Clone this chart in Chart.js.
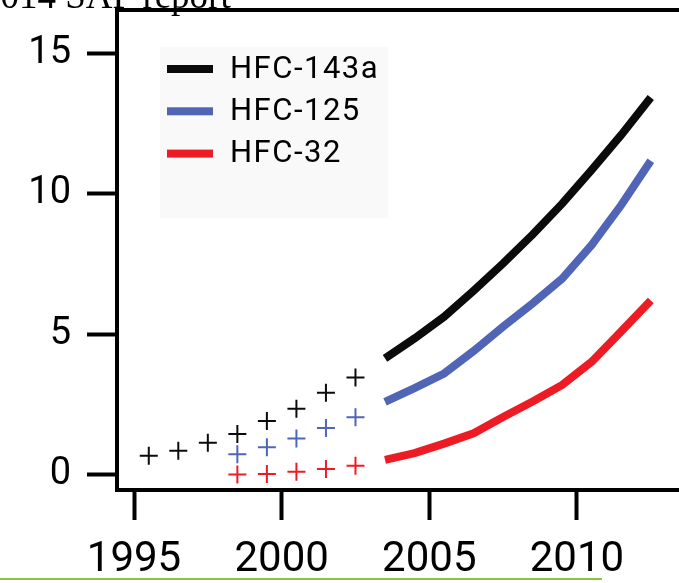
<!DOCTYPE html>
<html><head><meta charset="utf-8">
<script src="https://cdn.jsdelivr.net/npm/chart.js@4.4.1/dist/chart.umd.min.js"></script>
<style>html,body{margin:0;padding:0;background:#fff;overflow:hidden}#wrap{position:relative;width:679px;height:583px}</style>
</head><body><div id="wrap"><canvas id="c" width="679" height="583"></canvas></div>
<script>
// ---- data ----
const seriesNames = ['HFC-143a', 'HFC-125', 'HFC-32'];
const obsYears143a = [1995.5, 1996.5, 1997.5, 1998.5, 1999.5, 2000.5, 2001.5, 2002.5];
const obsHFC143a   = [0.67, 0.85, 1.13, 1.44, 1.91, 2.34, 2.91, 3.46];
const obsYears125  = [1998.5, 1999.5, 2000.5, 2001.5, 2002.5];
const obsHFC125    = [0.72, 0.97, 1.28, 1.66, 2.04];
const obsYears32   = [1998.5, 1999.5, 2000.5, 2001.5, 2002.5];
const obsHFC32     = [0.00, 0.02, 0.10, 0.20, 0.31];
const projYears    = [2003.5, 2004.5, 2005.5, 2006.5, 2007.5, 2008.5, 2009.5, 2010.5, 2011.5, 2012.5];
const projHFC143a  = [4.14, 4.85, 5.62, 6.55, 7.52, 8.55, 9.65, 10.85, 12.10, 13.43];
const projHFC125   = [2.59, 3.08, 3.60, 4.40, 5.27, 6.10, 6.98, 8.18, 9.60, 11.18];
const projHFC32    = [0.52, 0.76, 1.10, 1.47, 2.05, 2.60, 3.19, 4.02, 5.10, 6.20];
const xTickLabels  = [1995, 2000, 2005, 2010];
const yTickLabels  = [0, 5, 10, 15];
const headerText   = '2014 SAP report';

const colors = ['#0b0b0b', '#5165b6', '#ed1c24'];
const pair = (xs, ys) => xs.map((x, i) => ({x: x, y: ys[i]}));

function lineDs(i, ys) {
  return {label: seriesNames[i], data: pair(projYears, ys), showLine: true, borderColor: colors[i],
    backgroundColor: colors[i], borderWidth: 8, pointRadius: 0, pointHoverRadius: 0,
    tension: 0, borderCapStyle: 'butt', borderJoinStyle: 'miter', fill: false};
}
function obsDs(i, xs, ys) {
  return {label: seriesNames[i] + ' obs', data: pair(xs, ys), showLine: false, pointStyle: 'cross',
    pointRadius: 9, pointHoverRadius: 9, pointBorderWidth: 2, borderColor: colors[i], backgroundColor: colors[i]};
}

const decor = {
  id: 'decor',
  beforeDraw(chart) {
    const ctx = chart.ctx;
    ctx.save();
    ctx.font = '37px "Liberation Serif"';
    ctx.fillStyle = '#000';
    ctx.textBaseline = 'alphabetic';
    ctx.textAlign = 'left';
    ctx.fillText(headerText, -18, 8);
    ctx.restore();
  },
  beforeDatasetsDraw(chart) {
    const ctx = chart.ctx, a = chart.chartArea;
    const bx = a.left + 43, by = a.top + 37;
    ctx.save();
    ctx.fillStyle = '#f9f9f9';
    ctx.fillRect(bx, by, 228, 171);
    ctx.font = '31px Roboto';
    try { ctx.letterSpacing = '1.5px'; } catch (e) {}
    ctx.textBaseline = 'middle';
    ctx.textAlign = 'left';
    for (let i = 0; i < seriesNames.length; i++) {
      const y = by + 22 + i * 42.3;
      ctx.fillStyle = colors[i];
      ctx.fillRect(bx + 7, y - 4, 46, 8);
      ctx.fillStyle = '#000';
      ctx.fillText(seriesNames[i], bx + 70, y + 1);
    }
    ctx.restore();
  },
  afterDraw(chart) {
    const ctx = chart.ctx, a = chart.chartArea;
    ctx.save();
    ctx.strokeStyle = '#000';
    ctx.lineWidth = 4;
    ctx.beginPath();
    ctx.moveTo(a.left - 2, a.top);
    ctx.lineTo(chart.width, a.top);
    ctx.stroke();
    ctx.strokeStyle = '#8cc63f';
    ctx.lineWidth = 2;
    ctx.beginPath();
    ctx.moveTo(0, 579);
    ctx.lineTo(602, 579);
    ctx.stroke();
    ctx.restore();
  }
};

new Chart(document.getElementById('c'), {
  type: 'scatter',
  data: {datasets: [
    lineDs(0, projHFC143a), lineDs(1, projHFC125), lineDs(2, projHFC32),
    obsDs(0, obsYears143a, obsHFC143a), obsDs(1, obsYears125, obsHFC125), obsDs(2, obsYears32, obsHFC32)
  ]},
  options: {
    responsive: false, animation: false, devicePixelRatio: 1,
    layout: {autoPadding: false, padding: {top: 10, right: 0, left: 0, bottom: 0}},
    plugins: {legend: {display: false}, tooltip: {enabled: false}},
    events: [],
    scales: {
      x: {
        type: 'linear', min: 1994.424, max: 2013.456,
        afterBuildTicks: s => { s.ticks = xTickLabels.map(v => ({value: v})); },
        afterFit: s => { s.height = 93; s.paddingLeft = 0; s.paddingRight = 0; },
        grid: {display: true, drawOnChartArea: false, drawTicks: true, tickLength: 30, tickWidth: 4, tickColor: '#000'},
        border: {display: true, color: '#000', width: 4},
        ticks: {color: '#000', font: {family: 'Roboto', size: 42}, padding: 15, maxRotation: 0, autoSkip: false,
          callback: v => String(v)}
      },
      y: {
        type: 'linear', min: -0.552, max: 16.55,
        afterBuildTicks: s => { s.ticks = yTickLabels.map(v => ({value: v})); },
        afterFit: s => { s.width = 117; s.paddingTop = 0; s.paddingBottom = 0; },
        grid: {display: true, drawOnChartArea: false, drawTicks: true, tickLength: 30, tickWidth: 4, tickColor: '#000'},
        border: {display: true, color: '#000', width: 4},
        ticks: {color: '#000', font: {family: 'Roboto', size: 38}, padding: 16, autoSkip: false,
          callback: v => String(v)}
      }
    }
  },
  plugins: [decor]
});
</script></body></html>
